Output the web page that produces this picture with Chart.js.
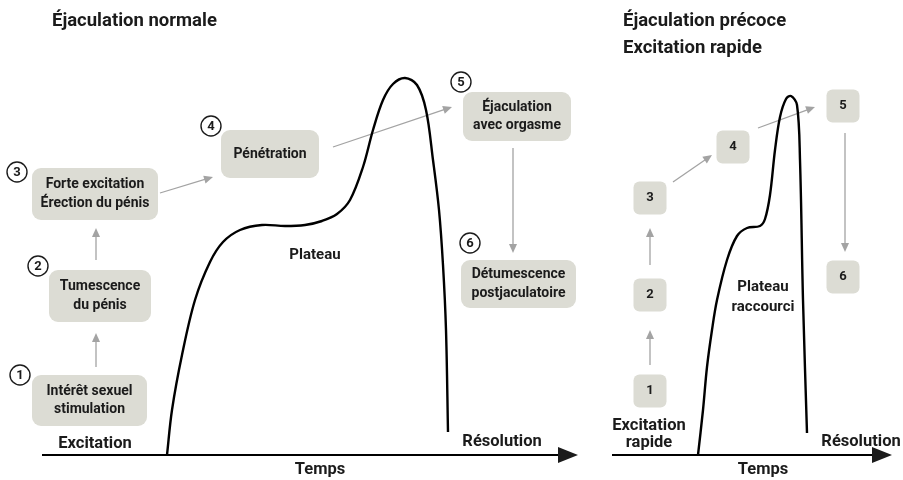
<!DOCTYPE html>
<html lang="fr">
<head>
<meta charset="utf-8">
<title>Éjaculation normale / précoce</title>
<script src="https://cdn.jsdelivr.net/npm/chart.js@4.4.1/dist/chart.umd.min.js"></script>
<style>
  html, body { margin: 0; padding: 0; background: #fff; }
  #wrap { width: 903px; height: 480px; position: relative; }
</style>
</head>
<body>
<div id="wrap"><canvas id="diagram" width="903" height="480"></canvas></div>
<script>
// Time runs left to right, arousal level is measured up from the time axis (0)
const normalTime    = [167, 172, 182, 195, 210, 223, 240, 262, 285, 305, 322, 337, 350, 363, 373, 383, 393, 405, 417, 426, 433, 439, 443, 446, 448];
const normalArousal = [0, 45, 100, 155, 193, 213, 225, 230, 229, 230, 234, 241, 255, 288, 325, 355, 371, 377, 370, 345, 295, 245, 190, 125, 23];

const rapidTime    = [698, 703, 707, 712, 717, 727, 737, 747, 760, 765, 770, 775, 780, 786, 791, 797, 800, 803, 807];
const rapidArousal = [0, 45, 88, 125, 155, 195, 219, 227, 229, 236, 260, 305, 338, 356, 359, 350, 295, 155, 22];

// time axes (start, end)
const normalAxis = [42, 566];
const rapidAxis = [612, 880];

const normalSteps = [
  'Intérêt sexuel\nstimulation',
  'Tumescence\ndu pénis',
  'Forte excitation\nÉrection du pénis',
  'Pénétration',
  'Éjaculation\navec orgasme',
  'Détumescence\npostjaculatoire'
];
const rapidSteps = ['1', '2', '3', '4', '5', '6'];

// layout of the step boxes: [centre time, centre level, width, height]
const normalBoxes = [
  [89.5, 54.5, 115, 51],
  [100, 159, 102, 52],
  [95, 261, 126, 52],
  [270, 301, 98, 48],
  [517, 338.5, 108, 49],
  [518.5, 171, 115, 48]
];
const normalBadges = [[20, 80], [38, 189], [17, 283], [211, 329], [461, 373], [470, 212]];
const rapidBoxes = [
  [650, 64, 33, 33],
  [650, 160, 33, 33],
  [650, 257, 33, 33],
  [733, 308, 33, 33],
  [843, 349, 33, 33],
  [843, 178, 33, 33]
];
// arrows between steps: [x1, y1, x2, y2]
const normalArrows = [
  [96, 88, 96, 122],
  [96, 195, 96, 227],
  [160, 262, 213, 278],
  [333, 308, 452, 348],
  [513, 307, 513, 202]
];
const rapidArrows = [
  [650, 90, 650, 125],
  [650, 190, 650, 227],
  [673, 273, 712, 300],
  [758, 327, 815, 348],
  [845, 322, 845, 203]
];

// free labels: [text, x, y, align, size, line height]
const labels = [
  ['Éjaculation normale', 52, 434, 'left', 18.5, 1.3],
  ['Éjaculation précoce', 623, 434, 'left', 18.5, 1.3],
  ['Excitation rapide', 623, 407, 'left', 18.5, 1.3],
  ['Plateau', 315, 200, 'center', 15, 1.3],
  ['Plateau\nraccourci', 763, 158, 'center', 15, 1.35],
  ['Excitation', 95, 11, 'center', 16.5, 1.3],
  ['Excitation\nrapide', 649, 20.5, 'center', 16.5, 1.05],
  ['Résolution', 502, 13, 'center', 16.5, 1.3],
  ['Résolution', 861, 13, 'center', 16.5, 1.3],
  ['Temps', 320, -15, 'center', 16.5, 1.3],
  ['Temps', 763, -15, 'center', 16.5, 1.3]
];

const FONT = 'Roboto, "Liberation Sans", sans-serif';
const INK = '#1b1b1b';
const BOX_FILL = '#dcdcd4';
const ARROW = '#a3a3a3';

function toPoints(xs, ys) {
  return xs.map((x, i) => ({ x: x, y: ys[i] }));
}

function roundRect(ctx, x, y, w, h, r) {
  ctx.beginPath();
  ctx.moveTo(x + r, y);
  ctx.arcTo(x + w, y, x + w, y + h, r);
  ctx.arcTo(x + w, y + h, x, y + h, r);
  ctx.arcTo(x, y + h, x, y, r);
  ctx.arcTo(x, y, x + w, y, r);
  ctx.closePath();
}

function drawText(ctx, text, x, y, size, align, lineHeight) {
  const lines = text.split('\n');
  const lh = size * (lineHeight || 1.3);
  ctx.font = 'bold ' + size + 'px ' + FONT;
  ctx.fillStyle = INK;
  ctx.textAlign = align;
  ctx.textBaseline = 'middle';
  lines.forEach((line, i) => {
    ctx.fillText(line, x, y + (i - (lines.length - 1) / 2) * lh);
  });
}

function arrowHead(ctx, x1, y1, x2, y2, len, half, color) {
  const a = Math.atan2(y2 - y1, x2 - x1);
  ctx.fillStyle = color;
  ctx.beginPath();
  ctx.moveTo(x2, y2);
  ctx.lineTo(x2 - len * Math.cos(a) + half * Math.sin(a), y2 - len * Math.sin(a) - half * Math.cos(a));
  ctx.lineTo(x2 - len * Math.cos(a) - half * Math.sin(a), y2 - len * Math.sin(a) + half * Math.cos(a));
  ctx.closePath();
  ctx.fill();
}

const diagramPlugin = {
  id: 'diagram',
  beforeDatasetsDraw(chart) {
    const ctx = chart.ctx;
    const sx = chart.scales.x, sy = chart.scales.y;
    const px = v => sx.getPixelForValue(v);
    const py = v => sy.getPixelForValue(v);
    ctx.save();

    // connector arrows
    normalArrows.concat(rapidArrows).forEach(a => {
      const x1 = px(a[0]), y1 = py(a[1]), x2 = px(a[2]), y2 = py(a[3]);
      const ang = Math.atan2(y2 - y1, x2 - x1);
      ctx.strokeStyle = ARROW;
      ctx.lineWidth = 1.3;
      ctx.beginPath();
      ctx.moveTo(x1, y1);
      ctx.lineTo(x2 - 6 * Math.cos(ang), y2 - 6 * Math.sin(ang));
      ctx.stroke();
      arrowHead(ctx, x1, y1, x2, y2, 9, 4, ARROW);
    });

    // step boxes
    normalBoxes.forEach((b, i) => {
      const w = b[2], h = b[3];
      const cx = px(b[0]), cy = py(b[1]);
      ctx.fillStyle = BOX_FILL;
      roundRect(ctx, cx - w / 2, cy - h / 2, w, h, 9);
      ctx.fill();
      drawText(ctx, normalSteps[i], cx, cy, 14, 'center');
    });
    rapidBoxes.forEach((b, i) => {
      const w = b[2], h = b[3];
      const cx = px(b[0]), cy = py(b[1]);
      ctx.fillStyle = BOX_FILL;
      roundRect(ctx, cx - w / 2, cy - h / 2, w, h, 6);
      ctx.fill();
      drawText(ctx, rapidSteps[i], cx, cy, 13, 'center');
    });

    // numbered badges
    normalBadges.forEach((c, i) => {
      const cx = px(c[0]), cy = py(c[1]);
      ctx.fillStyle = '#fff';
      ctx.strokeStyle = INK;
      ctx.lineWidth = 1.4;
      ctx.beginPath();
      ctx.arc(cx, cy, 10, 0, Math.PI * 2);
      ctx.fill();
      ctx.stroke();
      drawText(ctx, String(i + 1), cx, cy + 0.5, 13, 'center');
    });

    labels.forEach(l => drawText(ctx, l[0], px(l[1]), py(l[2]), l[4], l[3], l[5]));
    ctx.restore();
  },
  afterDatasetsDraw(chart) {
    const ctx = chart.ctx;
    const sx = chart.scales.x, sy = chart.scales.y;
    ctx.save();
    [normalAxis, rapidAxis].forEach(a => {
      const x1 = sx.getPixelForValue(a[0]), x2 = sx.getPixelForValue(a[1]);
      const y = sy.getPixelForValue(0);
      arrowHead(ctx, x1, y, x2 + 12, y, 20, 8, INK);
    });
    ctx.restore();
  }
};

new Chart(document.getElementById('diagram'), {
  type: 'line',
  data: {
    datasets: [
      {
        label: 'Éjaculation normale',
        data: toPoints(normalTime, normalArousal),
        borderColor: '#000',
        borderWidth: 2.4,
        pointRadius: 0,
        tension: 0.35,
        fill: false
      },
      {
        label: 'Éjaculation précoce',
        data: toPoints(rapidTime, rapidArousal),
        borderColor: '#000',
        borderWidth: 2.4,
        pointRadius: 0,
        tension: 0.35,
        fill: false
      },
      {
        label: 'Temps',
        data: toPoints(normalAxis, [0, 0]),
        borderColor: '#000',
        borderWidth: 2,
        pointRadius: 0
      },
      {
        label: 'Temps (précoce)',
        data: toPoints(rapidAxis, [0, 0]),
        borderColor: '#000',
        borderWidth: 2,
        pointRadius: 0
      }
    ]
  },
  options: {
    responsive: false,
    animation: false,
    events: [],
    layout: { padding: 0 },
    clip: false,
    plugins: { legend: { display: false }, tooltip: { enabled: false } },
    scales: {
      x: { type: 'linear', min: 0, max: 903, display: false },
      y: { type: 'linear', min: -25, max: 455, display: false }
    }
  },
  plugins: [diagramPlugin]
});
</script>
</body>
</html>
